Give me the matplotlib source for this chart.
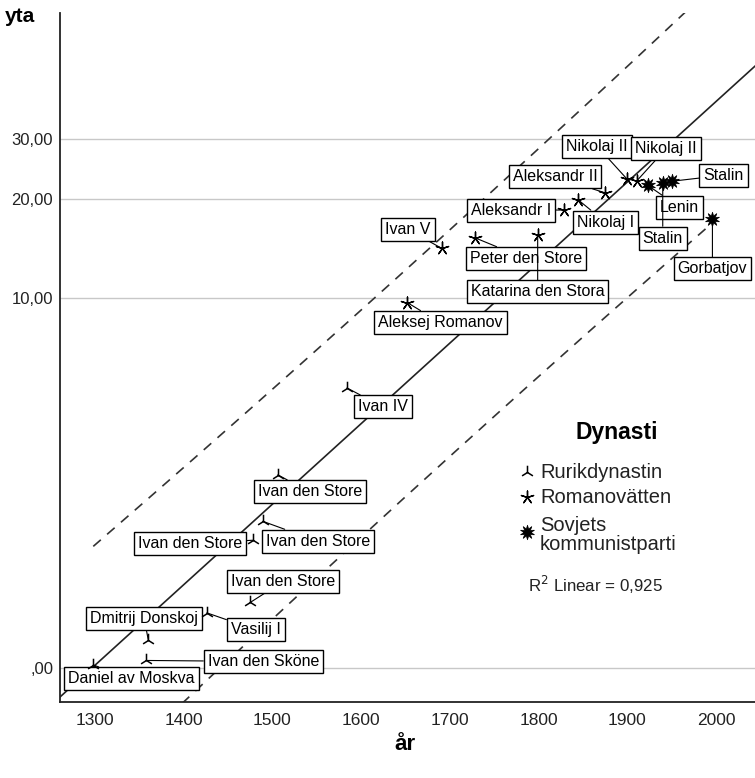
import numpy as np
import matplotlib
matplotlib.use("Agg")
import matplotlib.pyplot as plt

plt.rcParams['font.family'] = ['Liberation Sans', 'DejaVu Sans']

# ---- data ----
rurik_names = ["Daniel av Moskva", "Ivan den Sköne", "Dmitrij Donskoj", "Vasilij I",
               "Ivan den Store", "Ivan den Store", "Ivan den Store", "Ivan den Store", "Ivan IV"]
rurik_year = [1298, 1358, 1360, 1426, 1475, 1478, 1489, 1506, 1584]
rurik_yta = [0.02, 0.05, 0.20, 0.43, 0.53, 1.29, 1.59, 2.50, 5.15]

romanov_names = ["Aleksej Romanov", "Ivan V", "Peter den Store", "Katarina den Stora",
                 "Aleksandr I", "Nikolaj I", "Aleksandr II", "Nikolaj II", "Nikolaj II"]
romanov_year = [1652, 1691, 1728, 1799, 1829, 1845, 1875, 1900, 1911]
romanov_yta = [9.7, 14.2, 15.3, 15.6, 18.5, 19.8, 20.8, 22.8, 22.6]

sovjet_names = ["Lenin", "Stalin", "Stalin", "Gorbatjov"]
sovjet_year = [1923, 1940, 1950, 1996]
sovjet_yta = [21.9, 22.2, 22.5, 17.4]

y_ticks = [0, 10, 20, 30]
y_ticklabels = [",00", "10,00", "20,00", "30,00"]
x_ticks = [1300, 1400, 1500, 1600, 1700, 1800, 1900, 2000]

# label offsets in pixels (dx right, dy up)
rurik_off = [(38, -14), (117, -1), (-4, 21), (49, -17), (33, 21), (-63, -3), (55, -20), (32, -17), (36, -19)]
romanov_off = [(33, -20), (-34, 19), (51, -21), (0, -57), (-53, 0), (27, -22), (-50, 16), (-30, 33), (29, 32)]
sovjet_off = [(32, -22), (0, -55), (52, 6), (0, -50)]

# ---- figure ----
fig = plt.figure(figsize=(7.55, 7.78), dpi=100)
ax = fig.add_axes([60/755, (778-702)/778, 1-60/755, (702-13)/778])

fwd = lambda v: np.log10(np.maximum(np.asarray(v, float) + 1, 1e-12))
inv = lambda t: 10 ** np.asarray(t, float) - 1
ax.set_yscale('function', functions=(fwd, inv))
xlim = (1260.5, 2044)
ax.set_xlim(*xlim)
ax.set_ylim(-0.198, 69)

ax.set_yticks(y_ticks)
ax.set_yticklabels(y_ticklabels)
ax.set_xticks(x_ticks)
ax.tick_params(axis='both', length=0, labelsize=12, colors='#222222')
ax.tick_params(axis='x', pad=8, labelsize=12.5)
ax.tick_params(axis='y', pad=5)
ax.yaxis.grid(True, color='#c8c8c8', lw=1)
ax.set_axisbelow(True)
for s in ['top', 'right']:
    ax.spines[s].set_visible(False)
for s in ['left', 'bottom']:
    ax.spines[s].set_linewidth(1.3)
    ax.spines[s].set_color('#222222')

# regression in transformed space with 95% prediction interval
X = np.array(rurik_year + romanov_year + sovjet_year, float)
Y = fwd(np.array(rurik_yta + romanov_yta + sovjet_yta, float))
n = len(X)
b, a = np.polyfit(X, Y, 1)
res = Y - (a + b * X)
s = np.sqrt(np.sum(res**2) / (n - 2))
Sxx = np.sum((X - X.mean())**2)
t_crit = 2.086
xs = np.linspace(xlim[0], xlim[1], 300)
ax.plot(xs, inv(a + b * xs), color='#222222', lw=1.2, zorder=2)
xp = np.linspace(X.min(), X.max(), 300)
yp = a + b * xp
se = s * np.sqrt(1 + 1/n + (xp - X.mean())**2 / Sxx)
ax.plot(xp, inv(yp + t_crit*se), color='#333333', lw=1.2, ls=(0, (6, 5)), zorder=2)
ax.plot(xp, inv(yp - t_crit*se), color='#333333', lw=1.2, ls=(0, (6, 5)), zorder=2)

mk_r = dict(marker='2', s=95, color='black', linewidths=1.1)
mk_ro = dict(marker=(5, 2, 0), s=85, color='black', linewidths=1.0)
mk_s = dict(marker=(10, 1, 0), s=110, color='black', linewidths=0.5)

ax.scatter(rurik_year, rurik_yta, zorder=4, **mk_r)
ax.scatter(romanov_year, romanov_yta, zorder=4, **mk_ro)
ax.scatter(sovjet_year, sovjet_yta, zorder=4, **mk_s)

bbox = dict(boxstyle='square,pad=0.25', fc='white', ec='black', lw=1)
def label(names, xs_, ys_, offs):
    for nm, x, y, (dx, dy) in zip(names, xs_, ys_, offs):
        ax.annotate(nm, (x, y), xytext=(dx, dy), textcoords='offset pixels',
                    ha='center', va='center', fontsize=11.5, bbox=bbox, zorder=3,
                    arrowprops=dict(arrowstyle='-', lw=0.8, color='black', shrinkA=0, shrinkB=0))
label(rurik_names, rurik_year, rurik_yta, rurik_off)
label(romanov_names, romanov_year, romanov_yta, romanov_off)
label(sovjet_names, sovjet_year, sovjet_yta, sovjet_off)

# axis titles
fig.text(5/755, 1-17/778, "yta", fontsize=15, fontweight='bold', va='center', ha='left')
fig.text(405/755, 1-745/778, "år", fontsize=16, fontweight='bold', va='center', ha='center')

# legend (manual)
def fx(px): return px/755
def fy(py): return 1 - py/778
fig.text(fx(617), fy(432), "Dynasti", fontsize=16.5, fontweight='bold', ha='center', va='center')
lg = [(472, 472, "Rurikdynastin", mk_r), (497, 497, "Romanovätten", mk_ro),
      (535, 532, "Sovjets\nkommunistparti", mk_s)]
for ty, my, txt, mk in lg:
    fig.text(fx(540), fy(ty), txt, fontsize=14.5, ha='left', va='center', linespacing=1.02, color='#222222')
    ax.scatter([fx(527)], [fy(my)], transform=fig.transFigure, clip_on=False, **mk)
fig.text(fx(528), fy(585), r"R$^{2}$ Linear = 0,925", fontsize=12.2, ha='left', va='center', color='#222222')

fig.savefig("out.png", dpi=100)
